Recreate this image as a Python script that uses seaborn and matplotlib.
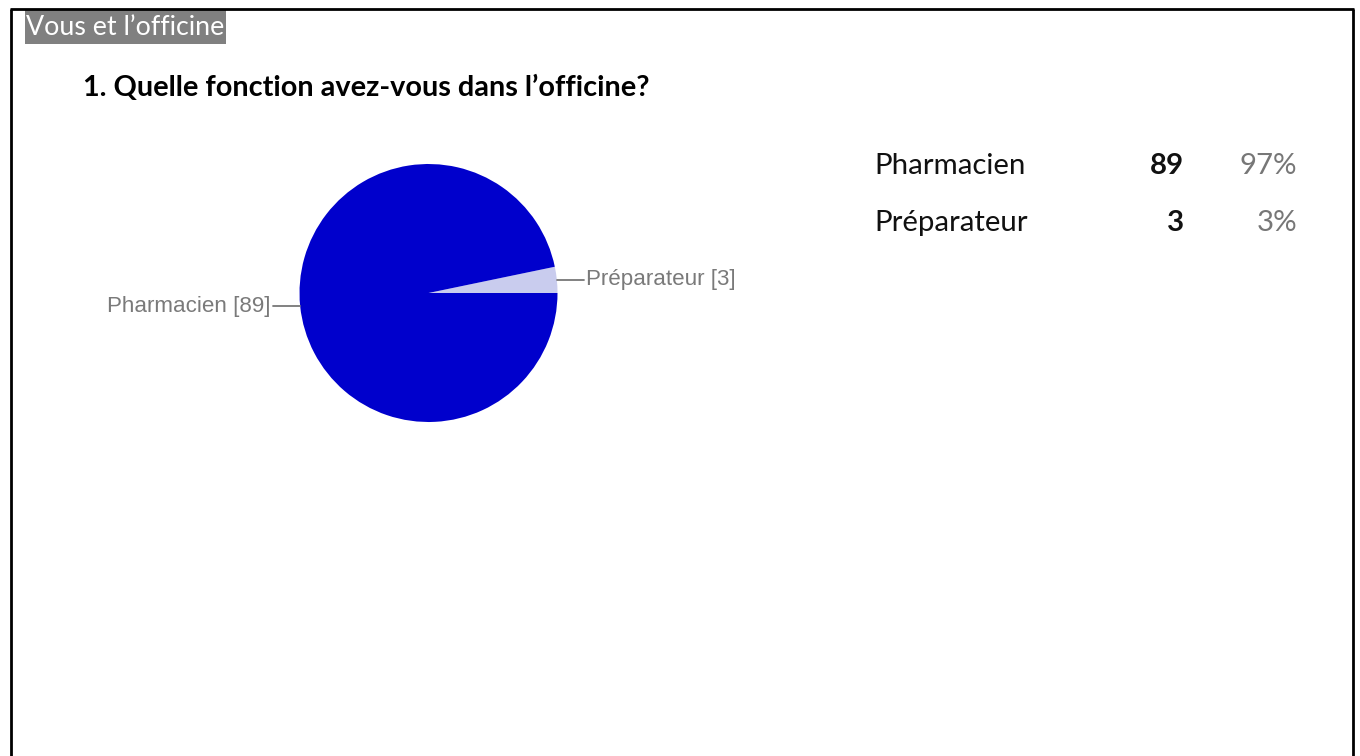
import numpy as np
import matplotlib
matplotlib.use("Agg")
import matplotlib.pyplot as plt
import seaborn as sns
from matplotlib.patches import Rectangle

sns.set_theme(style="white")
plt.rcParams['font.family'] = ['Lato', 'DejaVu Sans']

section = "Vous et l\u2019officine"
question = "1. Quelle fonction avez-vous dans l\u2019officine?"
categories = ["Pharmacien", "Pr\u00e9parateur"]
counts = [89, 3]
percents = ["97%", "3%"]
colors = ["#0000cc", "#c9ccee"]

W, H = 1360, 756
fig = plt.figure(figsize=(W / 100, H / 100), dpi=100)

# pixel overlay for frame, headings and the summary table
bg = fig.add_axes([0, 0, 1, 1])
bg.set_xlim(0, W)
bg.set_ylim(H, 0)
bg.axis("off")

bg.plot([11, 11], [9, H + 5], color="black", lw=2, solid_capstyle="butt")
bg.plot([1353, 1353], [9, H + 5], color="black", lw=2, solid_capstyle="butt")
bg.plot([10, 1354], [9, 9], color="black", lw=2, solid_capstyle="butt")

bg.add_patch(Rectangle((25, 10), 201, 34, facecolor="#808080", edgecolor="none"))
bg.text(26, 27.5, section, color="white", fontsize=19.3, va="center", ha="left")
bg.text(83, 88, question, color="black", fontsize=20.8, fontweight="bold",
        va="center", ha="left")

row_y = [166, 223]
for name, n, pct, y in zip(categories, counts, percents, row_y):
    bg.text(874, y, name, fontsize=21.2, color="#111111", va="center", ha="left")
    bg.text(1184, y, str(n), fontsize=21.2, fontweight="bold", color="#111111",
            va="center", ha="right")
    bg.text(1297, y, pct, fontsize=21.2, color="#777777", va="center", ha="right")

# pie axes: radius 1 -> 129 px, centred at (428, 293)
cx, cy, R = 428.5, 293, 129
half = 1.5 * R
pie_ax = fig.add_axes([(cx - half) / W, (H - cy - half) / H, 2 * half / W, 2 * half / H])
wedges, _ = pie_ax.pie(counts[::-1], colors=colors[::-1], startangle=0,
                       counterclock=True, radius=1,
                       wedgeprops=dict(linewidth=0, edgecolor="none"))
pie_ax.set_xlim(-1.5, 1.5)
pie_ax.set_ylim(-1.5, 1.5)
pie_ax.set_aspect("equal")
pie_ax.axis("off")

for w, name, n in zip(wedges, categories[::-1], counts[::-1]):
    mid = np.deg2rad((w.theta1 + w.theta2) / 2)
    x0, y0 = np.cos(mid), np.sin(mid)
    side = 1 if x0 > 0 else -1
    x1 = x0 + side * 0.21
    pie_ax.plot([x0, x1], [y0, y0], color="#777777", lw=1.3, clip_on=False)
    pie_ax.text(x1 + side * 0.02, y0, f"{name} [{n}]", fontsize=16.1,
                family=["Liberation Sans", "DejaVu Sans"], color="#7a7a7a",
                va="center", ha="left" if side > 0 else "right", clip_on=False)

fig.savefig("out.png", dpi=100, facecolor="white")
